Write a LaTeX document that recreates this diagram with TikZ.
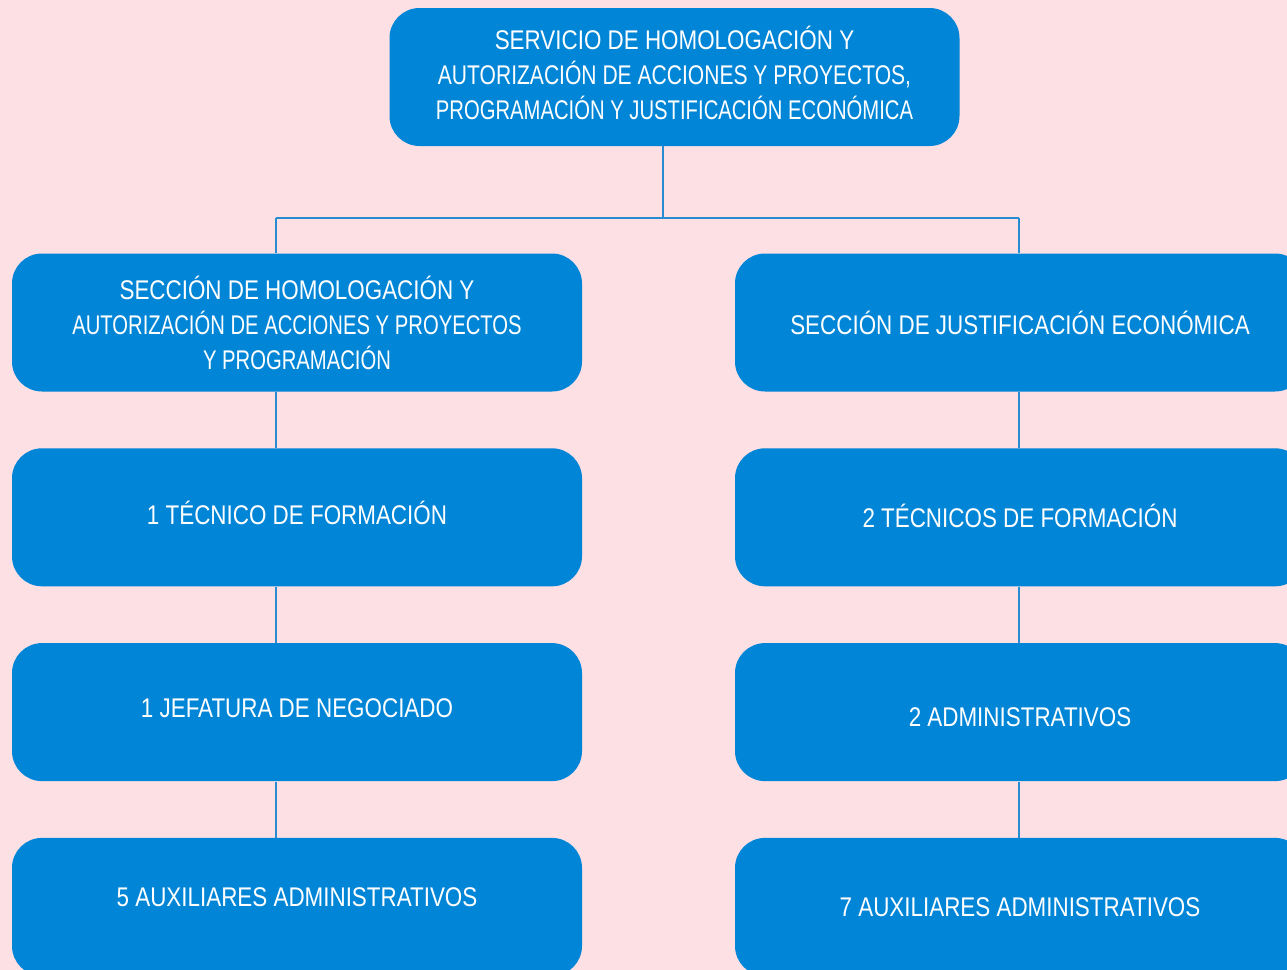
\documentclass[tikz,border=0pt]{standalone}
\usepackage{fontspec}
\setmainfont{Liberation Sans}[FakeStretch=0.83]
\newfontfamily\media{Liberation Sans}[FakeStretch=0.78]
\newfontfamily\estrecha{Liberation Sans}[FakeStretch=0.75]
\usepackage{tikz}
\usetikzlibrary{positioning, calc}
\definecolor{fondo}{RGB}{252,224,228}
\definecolor{azul}{RGB}{0,133,215}
\definecolor{linea}{RGB}{40,140,210}
\tikzset{
    caja/.style={rectangle, rounded corners=15pt, fill=azul, text=white, minimum width=285pt, minimum height=69pt, inner sep=0pt, align=center, font=\fontsize{13.5}{17.5}\selectfont},
    fija/.style={text height=9.7pt, text depth=0pt},
    enlace/.style={draw=linea, line width=0.75pt}
}

\begin{document}
\begin{tikzpicture}[x=0.5pt, y=-0.5pt]
      % --- Background ---
      \fill[fondo] (0,0) rectangle (1287,970);
      \useasboundingbox (0,0) rectangle (1287,970);

      % --- Head of service ---
      \node (servicio) [caja] at (674.5,77) {\raisebox{2pt}{\begin{tabular}{@{}c@{}}SERVICIO DE HOMOLOGACIÓN Y\\{\media AUTORIZACIÓN DE ACCIONES Y PROYECTOS,}\\{\estrecha PROGRAMACIÓN Y JUSTIFICACIÓN ECONÓMICA}\end{tabular}}};

      % --- Sections ---
      \node (secHom) [caja] at (297,322.5) {SECCIÓN DE HOMOLOGACIÓN Y\\{\estrecha AUTORIZACIÓN DE ACCIONES Y PROYECTOS}\\{\estrecha Y PROGRAMACIÓN}};
      \node (secJus) [caja] at (1020,322.5) {SECCIÓN DE JUSTIFICACIÓN ECONÓMICA};

      % --- Staff, left column ---
      \node (tecHom) [caja, fija, text depth=2.5pt, below=28pt of secHom] {1 TÉCNICO DE FORMACIÓN};
      \node (jefHom) [caja, fija, text depth=4pt, below=28pt of tecHom] {1 JEFATURA DE NEGOCIADO};
      \node (auxHom) [caja, fija, text depth=10pt, below=28pt of jefHom] {5 AUXILIARES ADMINISTRATIVOS};

      % --- Staff, right column ---
      \node (tecJus) [caja, fija, below=28pt of secJus] {2 TÉCNICOS DE FORMACIÓN};
      \node (admJus) [caja, fija, text height=14.7pt, below=28pt of tecJus] {2 ADMINISTRATIVOS};
      \node (auxJus) [caja, fija, below=28pt of admJus] {7 AUXILIARES ADMINISTRATIVOS};

      % --- Connectors ---
      \coordinate (fork) at (663,218);
      \coordinate (busL) at (276,218);
      \coordinate (busR) at (1019,218);
      \draw[enlace] (servicio.south -| fork) -- (fork);
      \draw[enlace] (busL) -- (busR);
      \draw[enlace] (busL) -- (secHom.north -| busL);
      \draw[enlace] (busR) -- (secJus.north -| busR);
      \draw[enlace] (secHom.south -| busL) -- (tecHom.north -| busL);
      \draw[enlace] (tecHom.south -| busL) -- (jefHom.north -| busL);
      \draw[enlace] (jefHom.south -| busL) -- (auxHom.north -| busL);
      \draw[enlace] (secJus.south -| busR) -- (tecJus.north -| busR);
      \draw[enlace] (tecJus.south -| busR) -- (admJus.north -| busR);
      \draw[enlace] (admJus.south -| busR) -- (auxJus.north -| busR);
\end{tikzpicture}
\end{document}
